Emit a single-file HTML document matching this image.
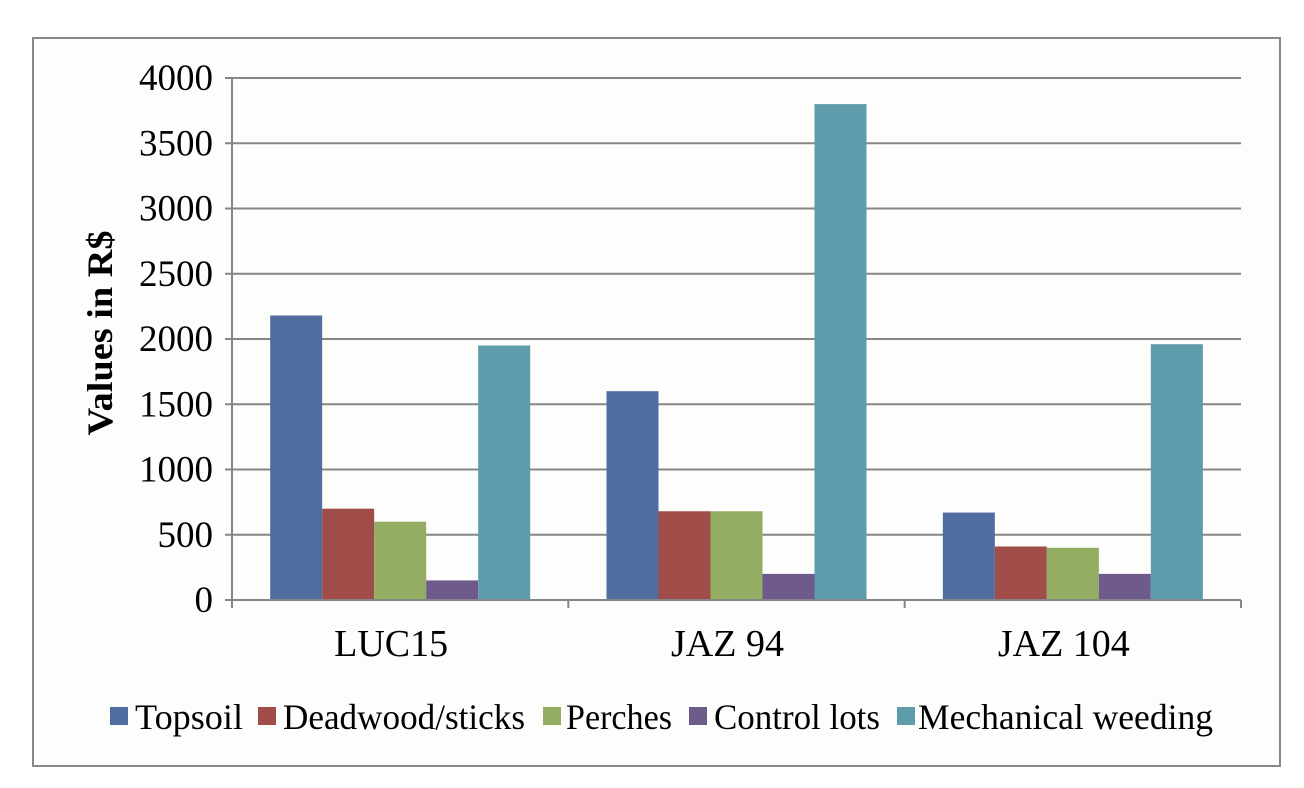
<!DOCTYPE html>
<html><head><meta charset="utf-8"><style>
body{margin:0;background:#fff;}
svg{display:block;font-family:"Liberation Serif",serif;}
</style></head><body>
<svg id="chart" width="1304" height="788" xmlns="http://www.w3.org/2000/svg">
<rect x="0" y="0" width="1304" height="788" fill="#ffffff"/>
<rect x="33" y="38" width="1247" height="728" fill="#fdfdfb" stroke="#888" stroke-width="2"/>
<g id="grid"></g>
<g id="bars"></g>
<g id="axes"></g>
<text x="0" y="0" transform="translate(112,333) rotate(-90)" text-anchor="middle" font-size="36" font-weight="bold" fill="#000" textLength="205" lengthAdjust="spacingAndGlyphs">Values in R$</text>
<g id="legend"></g>
</svg>
<script>
const categories = ["LUC15", "JAZ 94", "JAZ 104"];
const seriesNames = ["Topsoil", "Deadwood/sticks", "Perches", "Control lots", "Mechanical weeding"];
const topsoil = [2180, 1600, 670];
const deadwood = [700, 680, 410];
const perches = [600, 680, 400];
const controlLots = [150, 200, 200];
const mechanical = [1950, 3800, 1960];
const yTicks = [0, 500, 1000, 1500, 2000, 2500, 3000, 3500, 4000];

const series = [topsoil, deadwood, perches, controlLots, mechanical];
const colors = ["#4f6d9f", "#a04d4a", "#93ad62", "#6e5a8b", "#5f9cab"];
const NS = "http://www.w3.org/2000/svg";
const X0 = 232, X1 = 1241, Y0 = 600, Y1 = 78, YMAX = 4000;
const y = v => Y0 - (v / YMAX) * (Y0 - Y1);
const groupW = (X1 - X0) / categories.length;
const barW = 52;
const gap = (groupW - barW * series.length) / 2;
function mk(tag, attrs, parent) {
  const e = document.createElementNS(NS, tag);
  for (const k in attrs) e.setAttribute(k, attrs[k]);
  parent.appendChild(e);
  return e;
}
const grid = document.getElementById("grid");
const axes = document.getElementById("axes");
const bars = document.getElementById("bars");
const legend = document.getElementById("legend");
yTicks.forEach(t => {
  if (t > 0) {
    const l = mk("line", {x1: X0, x2: X1, y1: y(t), y2: y(t), stroke: "#868686", "stroke-width": 2}, grid);
    
    
  }
  const tk = mk("line", {x1: X0 - 7, x2: X0, y1: y(t), y2: y(t), stroke: "#868686", "stroke-width": 2}, axes);
  
  
  const tx = mk("text", {x: X0 - 19, y: y(t) + 12, "text-anchor": "end", "font-size": 37}, axes);
  tx.textContent = t;
  
  
});
categories.forEach((c, i) => {
  const gx = X0 + i * groupW;
  series.forEach((s, j) => {
    const r = mk("rect", {x: gx + gap + j * barW, y: y(s[i]), width: barW, height: Y0 - y(s[i]), fill: colors[j]}, bars);
    
    
  });
  const tx = mk("text", {x: gx + groupW / 2 - 9, y: 656, "text-anchor": "middle", "font-size": 38}, axes);
  tx.textContent = c;
  
  
});
for (let i = 0; i <= categories.length; i++) {
  const tk = mk("line", {x1: X0 + i * groupW, x2: X0 + i * groupW, y1: Y0, y2: Y0 + 8, stroke: "#868686", "stroke-width": 2}, axes);
  
  
}
const ya = mk("line", {x1: X0, x2: X0, y1: Y1, y2: Y0, stroke: "#868686", "stroke-width": 2}, axes);


const xa = mk("line", {x1: X0, x2: X1, y1: Y0, y2: Y0, stroke: "#868686", "stroke-width": 2}, axes);


const legX = [110, 258, 543, 689, 897];
const legTextX = [135, 283, 566, 714, 918];
const legLen = [108, 242, 106, 166, 295];
seriesNames.forEach((n, j) => {
  const g = mk("g", {}, legend);
  
  
  mk("rect", {x: legX[j], y: 707, width: 18, height: 18, fill: colors[j]}, g);
  const t = mk("text", {x: legTextX[j], y: 729, "font-size": 36, textLength: legLen[j], lengthAdjust: "spacingAndGlyphs"}, g);
  t.textContent = n;
});
</script>
</body></html>
